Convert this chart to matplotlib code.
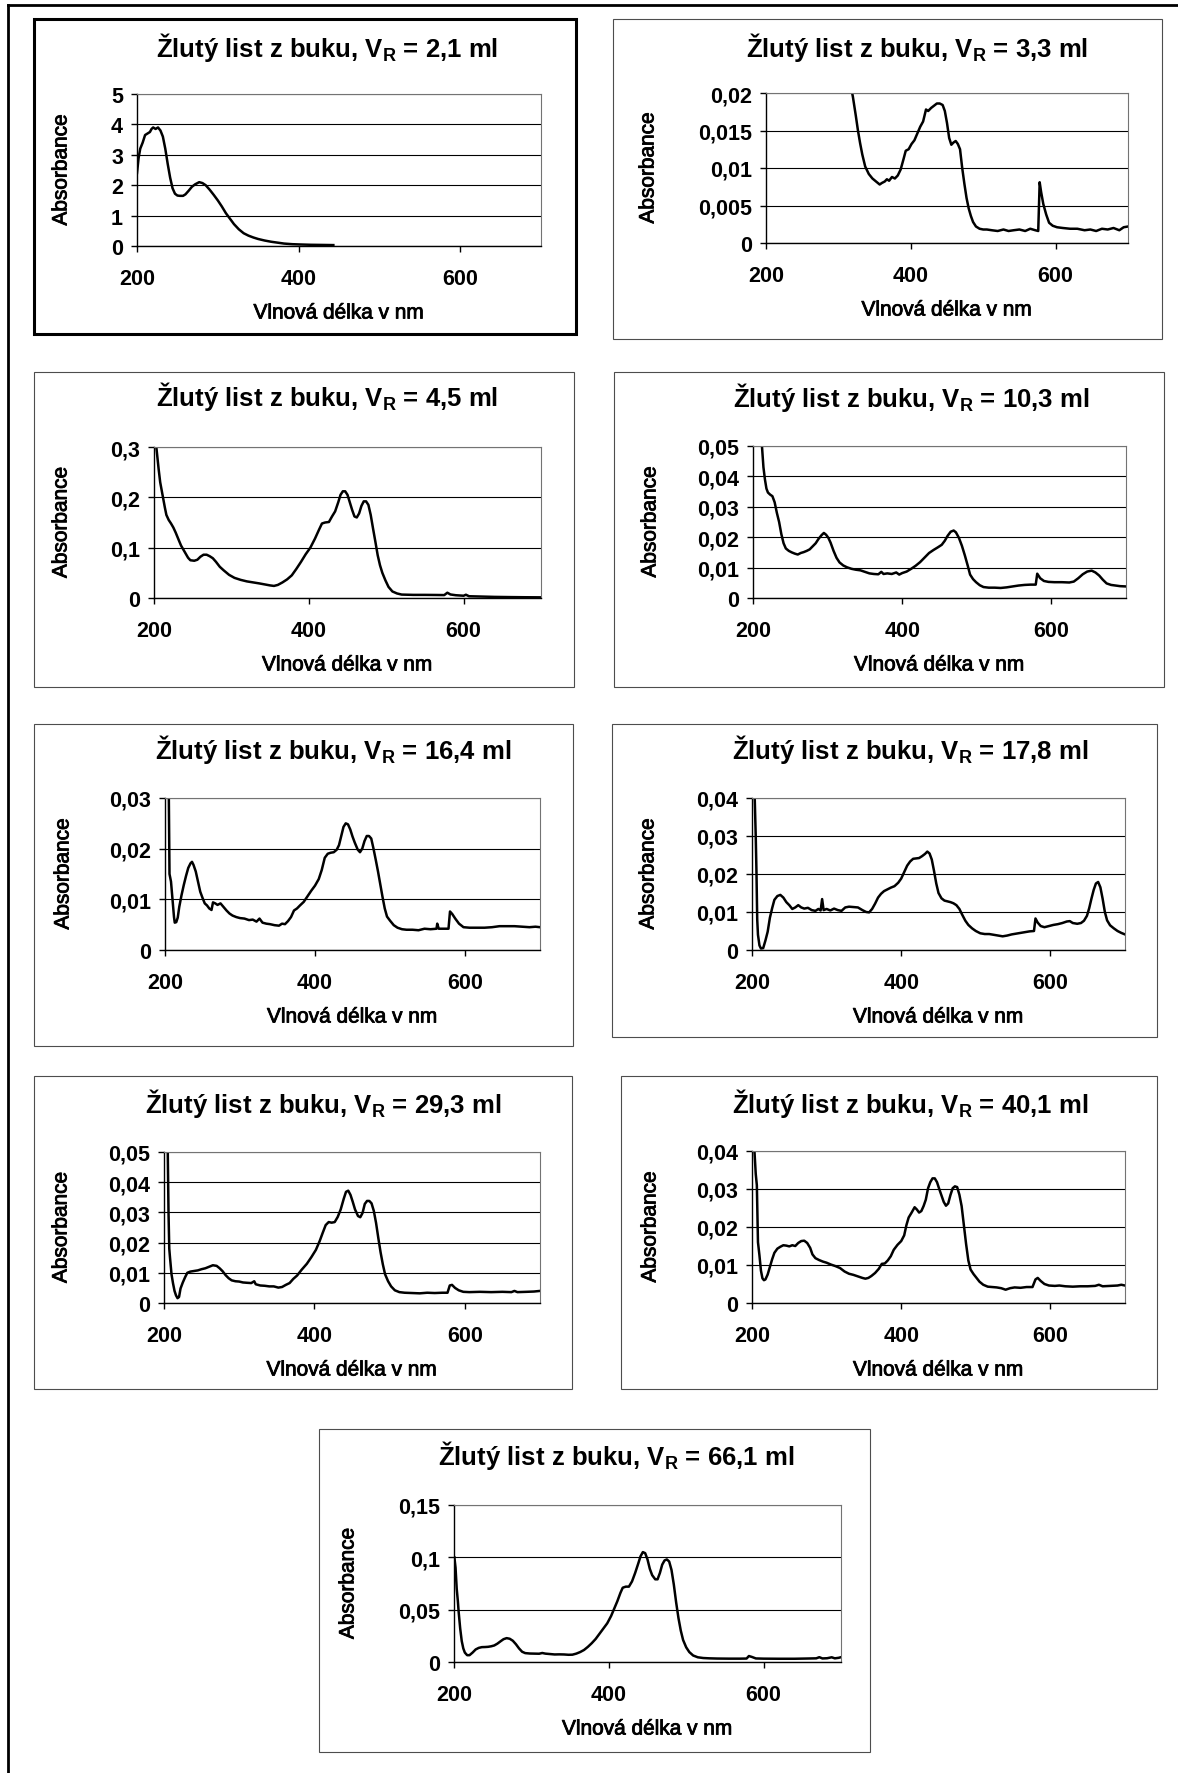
import matplotlib
matplotlib.use("Agg")
import matplotlib.pyplot as plt
import matplotlib.patheffects as pe
from matplotlib.patches import Rectangle
from matplotlib.lines import Line2D

plt.rcParams['font.family'] = ['Liberation Sans', 'DejaVu Sans']
plt.rcParams['mathtext.fontset'] = 'custom'
plt.rcParams['mathtext.rm'] = 'Liberation Sans:bold'
plt.rcParams['mathtext.it'] = 'Liberation Sans:bold'
plt.rcParams['mathtext.bf'] = 'Liberation Sans:bold'

# elution volumes (ml) of the fractions
volumes = ["2,1", "3,3", "4,5", "10,3", "16,4", "17,8", "29,3", "40,1", "66,1"]

# spectra: (wavelength nm, absorbance)
spec_2_1 = [(200, 2.4), (202, 2.9), (204, 3.2), (207, 3.4), (210, 3.65), (213, 3.7), (216, 3.75),
            (218, 3.85), (220, 3.9), (223, 3.85), (226, 3.9), (229, 3.8), (232, 3.6), (235, 3.2),
            (238, 2.7), (241, 2.25), (244, 1.9), (247, 1.72), (250, 1.66), (253, 1.65), (257, 1.65),
            (260, 1.7), (264, 1.82), (268, 1.95), (272, 2.03), (277, 2.1), (281, 2.07), (285, 2.0),
            (290, 1.85), (295, 1.68), (300, 1.5), (305, 1.3), (310, 1.08), (315, 0.9), (320, 0.72),
            (326, 0.55), (332, 0.42), (338, 0.34), (344, 0.28), (350, 0.23), (358, 0.18), (366, 0.14),
            (374, 0.11), (382, 0.08), (392, 0.06), (402, 0.05), (415, 0.04), (430, 0.035), (443, 0.03)]

spec_3_3 = [(305, 0.03), (315, 0.022), (320, 0.0195), (324, 0.017), (327, 0.015), (330, 0.0133),
            (333, 0.0118), (337, 0.0102), (342, 0.0092), (347, 0.0086), (352, 0.0082), (357, 0.0078),
            (360, 0.0080), (364, 0.0082), (367, 0.0085), (370, 0.0083), (374, 0.0088), (378, 0.0086),
            (382, 0.0090), (386, 0.0098), (390, 0.0112), (393, 0.0123), (397, 0.0125), (401, 0.0132),
            (405, 0.0137), (409, 0.0146), (413, 0.0155), (417, 0.0162), (421, 0.0178), (424, 0.0176),
            (428, 0.018), (432, 0.0183), (436, 0.0186), (440, 0.0186), (444, 0.0184), (447, 0.0176),
            (450, 0.0160), (453, 0.0140), (456, 0.0131), (459, 0.0134), (462, 0.0136), (465, 0.0132),
            (468, 0.0125), (471, 0.0100), (474, 0.0079), (477, 0.0060), (480, 0.0046), (483, 0.0036),
            (486, 0.0028), (490, 0.0022), (495, 0.0019), (500, 0.0018), (505, 0.0018), (512, 0.0017),
            (520, 0.0016), (528, 0.0018), (535, 0.0016), (542, 0.0017), (550, 0.0018), (558, 0.0016),
            (565, 0.0019), (572, 0.0017), (576, 0.0016), (578, 0.0081), (580, 0.0068), (583, 0.0052),
            (587, 0.0038), (591, 0.0027), (596, 0.0023), (602, 0.0021), (610, 0.0020), (620, 0.0019),
            (630, 0.0019), (640, 0.0017), (648, 0.0018), (656, 0.0016), (664, 0.0019), (672, 0.0018),
            (680, 0.0020), (688, 0.0017), (694, 0.0021), (700, 0.0022)]

spec_4_5 = [(201, 0.33), (203, 0.30), (206, 0.256), (208, 0.23), (211, 0.205), (214, 0.18), (216, 0.165),
            (219, 0.155), (222, 0.148), (225, 0.14), (228, 0.13), (232, 0.115), (235, 0.104), (238, 0.096),
            (241, 0.088), (244, 0.08), (247, 0.075), (252, 0.074), (256, 0.076), (260, 0.082), (264, 0.086),
            (268, 0.086), (272, 0.083), (276, 0.079), (280, 0.072), (285, 0.062), (290, 0.055), (297, 0.046),
            (304, 0.04), (312, 0.036), (320, 0.033), (328, 0.031), (336, 0.029), (343, 0.027), (350, 0.025),
            (355, 0.024), (360, 0.026), (366, 0.031), (372, 0.037), (378, 0.045), (384, 0.058), (390, 0.072),
            (396, 0.087), (402, 0.1), (408, 0.118), (413, 0.135), (417, 0.148), (421, 0.15), (426, 0.151),
            (430, 0.162), (434, 0.172), (438, 0.19), (441, 0.205), (444, 0.212), (447, 0.212), (450, 0.205),
            (453, 0.19), (456, 0.175), (459, 0.162), (462, 0.16), (465, 0.168), (468, 0.183), (471, 0.192),
            (474, 0.192), (477, 0.185), (480, 0.165), (483, 0.138), (486, 0.112), (489, 0.085), (492, 0.065),
            (495, 0.05), (499, 0.035), (503, 0.022), (508, 0.013), (514, 0.009), (520, 0.0068), (535, 0.0062),
            (550, 0.0062), (565, 0.006), (575, 0.0058), (579, 0.0105), (583, 0.007), (590, 0.0055),
            (600, 0.0045), (603, 0.0065), (607, 0.0035), (620, 0.003), (640, 0.0022), (660, 0.0018),
            (680, 0.0015), (700, 0.0013)]

spec_10_3 = [(209, 0.07), (212, 0.05), (214, 0.043), (216, 0.039), (218, 0.036), (220, 0.0347), (223, 0.034),
             (226, 0.0335), (229, 0.0315), (232, 0.028), (235, 0.025), (238, 0.021), (241, 0.018),
             (244, 0.0163), (248, 0.0155), (252, 0.015), (256, 0.0146), (260, 0.0143), (264, 0.0148),
             (268, 0.0151), (272, 0.0155), (276, 0.016), (280, 0.017), (284, 0.018), (288, 0.0195),
             (292, 0.0207), (295, 0.0214), (298, 0.0208), (301, 0.0198), (304, 0.0182), (308, 0.0155),
             (312, 0.0132), (316, 0.0117), (321, 0.0107), (326, 0.0101), (332, 0.0096), (338, 0.0093),
             (344, 0.0091), (350, 0.0086), (356, 0.0081), (362, 0.0079), (368, 0.0078), (372, 0.0086),
             (375, 0.0079), (380, 0.0081), (386, 0.0079), (392, 0.0084), (396, 0.0077), (400, 0.0082),
             (406, 0.0087), (412, 0.0096), (418, 0.0106), (424, 0.0118), (430, 0.0133), (436, 0.0148),
             (442, 0.0158), (448, 0.0167), (453, 0.0175), (457, 0.0188), (461, 0.0205), (465, 0.0218),
             (469, 0.0222), (472, 0.0216), (476, 0.0198), (480, 0.0172), (484, 0.014), (488, 0.0105),
             (491, 0.0077), (495, 0.0062), (499, 0.0052), (504, 0.0042), (509, 0.0036), (516, 0.0034),
             (524, 0.0034), (532, 0.0033), (540, 0.0035), (548, 0.0038), (556, 0.0041), (564, 0.0043),
             (572, 0.0044), (579, 0.0044), (581, 0.008), (585, 0.0065), (590, 0.0056), (596, 0.0053),
             (604, 0.0052), (614, 0.0052), (624, 0.0051), (630, 0.0054), (636, 0.0065), (642, 0.0078),
             (648, 0.0087), (654, 0.009), (659, 0.0084), (664, 0.0074), (669, 0.006), (674, 0.0048),
             (680, 0.0043), (686, 0.0041), (692, 0.0039), (700, 0.0038)]

spec_16_4 = [(203, 0.045), (205, 0.032), (206, 0.015), (208, 0.0135), (210, 0.01), (212, 0.0065),
             (213, 0.0054), (215, 0.0055), (217, 0.0064), (219, 0.0085), (222, 0.0108), (225, 0.0128),
             (228, 0.0146), (231, 0.0162), (234, 0.0171), (236, 0.0174), (238, 0.0168), (241, 0.0155),
             (244, 0.0135), (247, 0.0115), (250, 0.0103), (253, 0.0092), (256, 0.0088), (259, 0.0082),
             (262, 0.0079), (264, 0.0094), (267, 0.0092), (270, 0.0089), (274, 0.0092), (278, 0.0085),
             (282, 0.0078), (286, 0.0072), (290, 0.0068), (295, 0.0065), (300, 0.0063), (306, 0.0062),
             (312, 0.0059), (317, 0.006), (322, 0.0056), (326, 0.0062), (330, 0.0054), (335, 0.0052),
             (340, 0.0051), (346, 0.0049), (352, 0.0048), (356, 0.0052), (360, 0.0051), (364, 0.0057),
             (368, 0.0065), (372, 0.0078), (376, 0.0082), (380, 0.0088), (385, 0.0095), (390, 0.0106),
             (395, 0.0117), (400, 0.0127), (405, 0.014), (409, 0.0158), (413, 0.0182), (417, 0.019),
             (421, 0.0192), (425, 0.0193), (429, 0.0198), (432, 0.0207), (435, 0.0225), (438, 0.0243),
             (441, 0.025), (444, 0.0248), (447, 0.0238), (450, 0.0224), (453, 0.0212), (457, 0.0198),
             (460, 0.0193), (463, 0.02), (466, 0.0215), (469, 0.0225), (472, 0.0225), (475, 0.022),
             (478, 0.02), (481, 0.0178), (484, 0.0155), (487, 0.013), (490, 0.0105), (493, 0.0082),
             (496, 0.0066), (500, 0.0058), (505, 0.0049), (510, 0.0044), (516, 0.0041), (522, 0.004),
             (530, 0.004), (538, 0.0039), (546, 0.0042), (554, 0.0041), (562, 0.0042), (563, 0.0052),
             (565, 0.0042), (572, 0.0042), (578, 0.0042), (580, 0.0076), (583, 0.0071), (587, 0.0062),
             (592, 0.0052), (598, 0.0045), (606, 0.0044), (616, 0.0044), (626, 0.0044), (636, 0.0045),
             (646, 0.0047), (656, 0.0047), (666, 0.0047), (676, 0.0046), (686, 0.0045), (694, 0.0046),
             (700, 0.0045)]

spec_17_8 = [(202, 0.06), (203.5, 0.041), (205, 0.03), (206, 0.0204), (207, 0.008), (208, 0.004),
             (210, 0.0012), (212, 0.0004), (215, 0.0005), (218, 0.0025), (221, 0.0048), (224, 0.0085),
             (227, 0.011), (230, 0.0132), (234, 0.0142), (238, 0.0145), (242, 0.0138), (246, 0.0126),
             (250, 0.0118), (254, 0.0108), (258, 0.0112), (262, 0.0118), (266, 0.0112), (270, 0.0109),
             (275, 0.0111), (280, 0.0105), (285, 0.0103), (289, 0.0108), (292, 0.0104), (294, 0.0134),
             (296, 0.0105), (300, 0.0108), (305, 0.0104), (310, 0.0109), (315, 0.0105), (320, 0.0103),
             (325, 0.0112), (330, 0.0114), (336, 0.0113), (342, 0.0112), (348, 0.0105), (353, 0.01),
             (357, 0.0099), (361, 0.0108), (365, 0.0122), (369, 0.0138), (373, 0.0148), (377, 0.0155),
             (381, 0.0159), (386, 0.0164), (391, 0.0168), (396, 0.0177), (400, 0.0188), (404, 0.0205),
             (408, 0.0222), (412, 0.0233), (416, 0.024), (420, 0.0241), (424, 0.0242), (428, 0.0247),
             (432, 0.0253), (435, 0.0259), (438, 0.0254), (441, 0.0238), (444, 0.0208), (447, 0.0175),
             (450, 0.015), (454, 0.0136), (458, 0.013), (462, 0.0128), (466, 0.0126), (470, 0.0123),
             (474, 0.0118), (478, 0.0108), (482, 0.0092), (486, 0.0077), (490, 0.0066), (495, 0.0057),
             (500, 0.005), (506, 0.0044), (512, 0.0042), (518, 0.0042), (524, 0.004), (530, 0.0038),
             (536, 0.0036), (542, 0.0038), (548, 0.0041), (554, 0.0043), (560, 0.0045), (566, 0.0047),
             (572, 0.0049), (578, 0.005), (580, 0.0083), (583, 0.0072), (587, 0.0063), (592, 0.006),
             (598, 0.0063), (604, 0.0066), (610, 0.0068), (616, 0.0071), (622, 0.0075), (626, 0.0076),
             (630, 0.0071), (636, 0.0069), (641, 0.0071), (645, 0.0077), (649, 0.009), (652, 0.011),
             (655, 0.0135), (658, 0.0158), (661, 0.0175), (664, 0.0179), (667, 0.0165), (670, 0.0135),
             (673, 0.01), (676, 0.0078), (680, 0.0065), (685, 0.0057), (690, 0.005), (695, 0.0045),
             (700, 0.0041)]

spec_29_3 = [(203, 0.07), (205, 0.05), (206, 0.03), (207, 0.018), (208, 0.015), (210, 0.0095),
             (212, 0.0065), (214, 0.004), (216, 0.0025), (218, 0.0016), (220, 0.002), (222, 0.0048),
             (225, 0.0068), (228, 0.0085), (231, 0.01), (235, 0.0104), (240, 0.0106), (245, 0.0108),
             (250, 0.0112), (255, 0.0115), (260, 0.012), (265, 0.0125), (270, 0.0123), (274, 0.0115),
             (278, 0.0105), (282, 0.0092), (286, 0.0082), (290, 0.0075), (295, 0.0072), (300, 0.0071),
             (305, 0.0068), (310, 0.0067), (316, 0.0066), (320, 0.0072), (322, 0.0062), (328, 0.0058),
             (334, 0.0057), (340, 0.0055), (346, 0.0055), (352, 0.0051), (357, 0.0053), (362, 0.006),
             (367, 0.0066), (372, 0.008), (377, 0.0091), (383, 0.011), (390, 0.013), (396, 0.0152),
             (402, 0.0176), (407, 0.0205), (411, 0.0232), (415, 0.0258), (419, 0.0268), (423, 0.0266),
             (427, 0.0268), (431, 0.0285), (435, 0.031), (439, 0.0345), (442, 0.0368), (445, 0.0372),
             (448, 0.0358), (451, 0.0335), (454, 0.031), (458, 0.0288), (461, 0.0284), (464, 0.0298),
             (467, 0.0328), (470, 0.0338), (473, 0.0338), (476, 0.033), (479, 0.0305), (482, 0.0265),
             (485, 0.0215), (488, 0.0168), (491, 0.0128), (494, 0.0095), (498, 0.0072), (502, 0.0055),
             (507, 0.0042), (513, 0.0036), (520, 0.0034), (530, 0.0033), (540, 0.0032), (550, 0.0034),
             (560, 0.0033), (570, 0.0034), (577, 0.0034), (580, 0.0058), (583, 0.006), (587, 0.005),
             (592, 0.0042), (598, 0.0037), (606, 0.0036), (620, 0.0037), (635, 0.0036), (650, 0.0037),
             (662, 0.0036), (666, 0.004), (670, 0.0036), (682, 0.0037), (692, 0.0038), (700, 0.004)]

spec_40_1 = [(202, 0.06), (203, 0.041), (205, 0.034), (206.5, 0.031), (208, 0.016), (210, 0.0125),
             (212, 0.0085), (214, 0.0065), (216, 0.006), (218, 0.0062), (221, 0.0075), (224, 0.0095),
             (227, 0.0115), (230, 0.0132), (234, 0.0143), (238, 0.0148), (242, 0.0152), (246, 0.0151),
             (250, 0.0149), (254, 0.0152), (258, 0.015), (262, 0.0158), (266, 0.0163), (270, 0.0164),
             (274, 0.0158), (278, 0.0145), (281, 0.0128), (285, 0.0118), (290, 0.0113), (295, 0.0109),
             (300, 0.0106), (306, 0.0101), (312, 0.0097), (318, 0.0092), (324, 0.0083), (330, 0.0077),
             (336, 0.0074), (342, 0.007), (348, 0.0066), (352, 0.0064), (356, 0.0066), (360, 0.0071),
             (365, 0.0079), (370, 0.009), (374, 0.0103), (378, 0.0104), (382, 0.0112), (386, 0.0123),
             (390, 0.014), (395, 0.0153), (400, 0.0163), (404, 0.0178), (407, 0.0205), (410, 0.0225),
             (414, 0.0238), (418, 0.0252), (421, 0.0246), (424, 0.0238), (427, 0.0242), (430, 0.0255),
             (433, 0.0272), (436, 0.0302), (439, 0.0318), (442, 0.0328), (445, 0.0328), (448, 0.0318),
             (451, 0.03), (454, 0.0283), (457, 0.0266), (460, 0.0256), (463, 0.0262), (466, 0.0284),
             (469, 0.0302), (472, 0.0307), (475, 0.0305), (478, 0.0285), (481, 0.0255), (484, 0.0205),
             (487, 0.0155), (490, 0.0112), (493, 0.0088), (497, 0.0076), (501, 0.0066), (505, 0.0056),
             (510, 0.0048), (516, 0.0043), (522, 0.0042), (528, 0.0041), (534, 0.0039), (540, 0.0035),
             (546, 0.0039), (552, 0.0041), (560, 0.004), (568, 0.0042), (576, 0.0042), (580, 0.0062),
             (583, 0.0066), (587, 0.0058), (592, 0.005), (598, 0.0046), (606, 0.0045), (612, 0.0046),
             (620, 0.0044), (630, 0.0043), (640, 0.0044), (650, 0.0044), (660, 0.0045), (665, 0.0048),
             (670, 0.0044), (680, 0.0045), (690, 0.0046), (695, 0.0048), (700, 0.0046)]

spec_66_1 = [(200.5, 0.1), (202, 0.09), (203.5, 0.07), (205, 0.058), (206, 0.048), (208, 0.032),
             (210, 0.02), (212, 0.013), (214, 0.009), (217, 0.0065), (220, 0.0065), (224, 0.009),
             (228, 0.012), (232, 0.0135), (236, 0.0142), (240, 0.0143), (244, 0.0145), (248, 0.015),
             (252, 0.0158), (256, 0.0175), (260, 0.0197), (264, 0.0218), (268, 0.0228), (272, 0.0222),
             (276, 0.0203), (280, 0.017), (284, 0.013), (288, 0.0098), (292, 0.0085), (298, 0.0081),
             (304, 0.008), (310, 0.0079), (314, 0.0086), (318, 0.008), (324, 0.0076), (330, 0.0072),
             (336, 0.0073), (342, 0.0072), (348, 0.0069), (353, 0.007), (358, 0.008), (363, 0.0095),
             (368, 0.0115), (373, 0.0145), (378, 0.018), (383, 0.022), (388, 0.027), (393, 0.032),
             (398, 0.037), (403, 0.044), (407, 0.051), (411, 0.058), (415, 0.066), (418, 0.071),
             (422, 0.072), (426, 0.072), (430, 0.077), (434, 0.085), (438, 0.094), (441, 0.101),
             (444, 0.105), (447, 0.104), (450, 0.098), (453, 0.089), (456, 0.083), (460, 0.079),
             (463, 0.079), (466, 0.085), (469, 0.093), (472, 0.097), (475, 0.098), (478, 0.096),
             (481, 0.088), (484, 0.074), (487, 0.057), (490, 0.042), (493, 0.03), (496, 0.021),
             (500, 0.014), (504, 0.0095), (509, 0.0062), (515, 0.0045), (522, 0.0038), (530, 0.0035),
             (540, 0.0033), (555, 0.0032), (570, 0.0032), (578, 0.0033), (581, 0.0057), (585, 0.0048),
             (590, 0.0034), (600, 0.0032), (620, 0.0031), (640, 0.0031), (655, 0.0033), (668, 0.0035),
             (672, 0.0046), (676, 0.0034), (682, 0.0036), (688, 0.0045), (692, 0.0035), (697, 0.004),
             (701, 0.0048)]

spectra = [spec_2_1, spec_3_3, spec_4_5, spec_10_3, spec_16_4, spec_17_8, spec_29_3, spec_40_1, spec_66_1]

# y axis ticks and their labels (Czech decimal comma)
yticks = [[0, 1, 2, 3, 4, 5],
          [0, 0.005, 0.01, 0.015, 0.02],
          [0, 0.1, 0.2, 0.3],
          [0, 0.01, 0.02, 0.03, 0.04, 0.05],
          [0, 0.01, 0.02, 0.03],
          [0, 0.01, 0.02, 0.03, 0.04],
          [0, 0.01, 0.02, 0.03, 0.04, 0.05],
          [0, 0.01, 0.02, 0.03, 0.04],
          [0, 0.05, 0.1, 0.15]]
ylabels = [["0", "1", "2", "3", "4", "5"],
           ["0", "0,005", "0,01", "0,015", "0,02"],
           ["0", "0,1", "0,2", "0,3"],
           ["0", "0,01", "0,02", "0,03", "0,04", "0,05"],
           ["0", "0,01", "0,02", "0,03"],
           ["0", "0,01", "0,02", "0,03", "0,04"],
           ["0", "0,01", "0,02", "0,03", "0,04", "0,05"],
           ["0", "0,01", "0,02", "0,03", "0,04"],
           ["0", "0,05", "0,1", "0,15"]]
xticks = [200, 400, 600]
xlabels = ["200", "400", "600"]

# layout in pixels (top-left origin): panel box, plot area, title centre, y-label x
W, H = 1178, 1774
layout = [
    dict(box=(34, 20, 576, 335), ax=(137, 95, 541, 247), title=(327, 47), ylx=61),
    dict(box=(613, 20, 1162, 340), ax=(766, 94, 1128, 244), title=(917, 47), ylx=648),
    dict(box=(34, 373, 574, 688), ax=(154, 448, 541, 599), title=(327, 397), ylx=61),
    dict(box=(614, 373, 1164, 688), ax=(753, 447, 1126, 599), title=(911, 398), ylx=650),
    dict(box=(34, 725, 573, 1047), ax=(165, 799, 540, 951), title=(333, 750), ylx=63),
    dict(box=(612, 725, 1157, 1038), ax=(752, 799, 1125, 951), title=(910, 750), ylx=648),
    dict(box=(34, 1077, 572, 1390), ax=(164, 1153, 540, 1304), title=(323, 1103), ylx=61),
    dict(box=(621, 1077, 1157, 1390), ax=(752, 1152, 1125, 1304), title=(910, 1103), ylx=650),
    dict(box=(319, 1430, 870, 1753), ax=(454, 1506, 841, 1663), title=(616, 1455), ylx=348),
]

fig = plt.figure(figsize=(W / 100, H / 100), dpi=100)


def fx(x):
    return x / W


def fy(y):
    return 1 - y / H


# the scanned labels look a bit heavier than a plain regular weight
heavier = [pe.withStroke(linewidth=0.6, foreground='black')]

# outer frame of the page (top and left edge only)
fig.add_artist(Line2D([fx(8), 1], [fy(6), fy(6)], lw=2, color='black'))
fig.add_artist(Line2D([fx(8), fx(8)], [fy(6), 0], lw=2, color='black'))

for i, spec in enumerate(spectra):
    lay = layout[i]
    bx0, by0, bx1, by1 = lay['box']
    thick = (i == 0)
    fig.add_artist(Rectangle((fx(bx0), fy(by1)), (bx1 - bx0) / W, (by1 - by0) / H,
                             fill=False, transform=fig.transFigure,
                             lw=2.2 if thick else 0.8, ec='black' if thick else '0.3'))

    ax0, ay0, ax1, ay1 = lay['ax']
    ax = fig.add_axes([fx(ax0), fy(ay1), (ax1 - ax0) / W, (ay1 - ay0) / H])
    wl = [p[0] for p in spec]
    ab = [p[1] for p in spec]
    ax.plot(wl, ab, color='black', lw=1.8, solid_joinstyle='round')

    ax.set_xlim(200, 700)
    ax.set_ylim(0, yticks[i][-1])
    ax.set_yticks(yticks[i], ylabels[i], fontweight='bold')
    ax.set_xticks(xticks, xlabels, fontweight='bold')
    ax.tick_params(axis='both', direction='out', length=4, width=1, labelsize=15.5, colors='black')
    ax.tick_params(axis='y', pad=6)
    ax.tick_params(axis='x', pad=12)
    ax.grid(axis='y', color='black', lw=0.8)
    ax.set_axisbelow(True)

    for side in ['top', 'right']:
        ax.spines[side].set_color('0.45')
        ax.spines[side].set_linewidth(0.8)
    for side in ['left', 'bottom']:
        ax.spines[side].set_color('black')
        ax.spines[side].set_linewidth(1.0)

    ax.set_xlabel('Vlnová délka v nm', fontsize=15, va='center', path_effects=heavier)
    ax.xaxis.set_label_coords(0.5, -67 / (ay1 - ay0))
    ax.set_ylabel('Absorbance', fontsize=15, va='center', path_effects=heavier)
    ax.yaxis.set_label_coords((lay['ylx'] - ax0) / (ax1 - ax0), 0.5)

    tx, ty = lay['title']
    fig.text(fx(tx), fy(ty), 'Žlutý list z buku, $V_R$ = ' + volumes[i] + ' ml',
             ha='center', va='center', fontsize=18.5, fontweight='bold')

fig.savefig('out.png', dpi=100)
